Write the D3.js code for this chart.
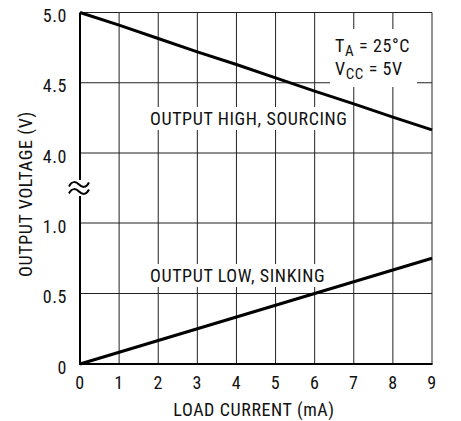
<!DOCTYPE html>
<html><head><meta charset="utf-8">
<script src="https://cdn.jsdelivr.net/npm/d3@7"></script>
<style>
body{margin:0;background:#fff;}
text{font-family:"Liberation Sans Narrow","Arial Narrow","Roboto Condensed",sans-serif;fill:#111;letter-spacing:0.6px;}
</style></head><body>
<svg id="c" width="461" height="421"></svg>
<script>
const current = [0,1,2,3,4,5,6,7,8,9];
const highOut = [5.00,4.91,4.815,4.72,4.63,4.535,4.44,4.35,4.255,4.165];
const lowOut  = [0.00,0.083,0.167,0.25,0.333,0.417,0.50,0.583,0.667,0.75];
const xTicks = [0,1,2,3,4,5,6,7,8,9];
const yTicks = [0,0.5,1.0,4.0,4.5,5.0];
const yTickLabels = ["0","0.5","1.0","4.0","4.5","5.0"];

const svg = d3.select("#c");
const fs = 18;
const x = d3.scaleLinear().domain([0,9]).range([80,432]);
const y = d3.scaleLinear().domain([0,1,4,5]).range([364,223,153,12.5]);

const g = svg.append("g");
g.selectAll(".vg").data(xTicks.slice(1)).join("line")
  .attr("x1",d=>x(d)).attr("x2",d=>x(d)).attr("y1",y(5)).attr("y2",y(0))
  .attr("stroke","#222").attr("stroke-width",1);
g.selectAll(".hg").data(yTicks.slice(1)).join("line")
  .attr("x1",x(0)).attr("x2",x(9)).attr("y1",d=>y(d)).attr("y2",d=>y(d))
  .attr("stroke","#222").attr("stroke-width",1);

const hi = g.append("text").attr("x",150).attr("y",125).attr("font-size",fs).text("OUTPUT HIGH, SOURCING");
const lo = g.append("text").attr("x",150).attr("y",282).attr("font-size",fs).text("OUTPUT LOW, SINKING");
[hi,lo].forEach(t=>{
  const b=t.node().getBBox();
  g.insert("rect","text").attr("x",b.x-4).attr("y",b.y-1).attr("width",b.width+8).attr("height",b.height+2).attr("fill","#fff");
});
g.append("rect").attr("x",330).attr("y",29).attr("width",87).attr("height",58).attr("fill","#fff");
const t1 = g.append("text").attr("x",335).attr("y",52).attr("font-size",fs);
t1.append("tspan").text("T");
t1.append("tspan").attr("font-size",15).attr("dy",4).text("A");
t1.append("tspan").attr("dy",-4).text(" = 25°C");
const t2 = g.append("text").attr("x",335).attr("y",75).attr("font-size",fs);
t2.append("tspan").text("V");
t2.append("tspan").attr("font-size",15).attr("dy",4).text("CC");
t2.append("tspan").attr("dy",-4).text(" = 5V");

g.append("line").attr("x1",x(0)).attr("x2",x(0)).attr("y1",y(5)).attr("y2",y(0)+1)
  .attr("stroke","#000").attr("stroke-width",2);
g.append("line").attr("x1",x(0)-1).attr("x2",x(9)+0.5).attr("y1",y(0)).attr("y2",y(0))
  .attr("stroke","#000").attr("stroke-width",2);

const line = d3.line().x((d,i)=>x(current[i])).y(d=>y(d));
g.append("path").attr("d",line(highOut)).attr("fill","none").attr("stroke","#000").attr("stroke-width",3);
g.append("path").attr("d",line(lowOut)).attr("fill","none").attr("stroke","#000").attr("stroke-width",3);

const bx = x(0)-1, by = (y(4)+y(1))/2;
g.append("rect").attr("x",bx-11).attr("y",by-8).attr("width",22).attr("height",16).attr("fill","#fff");
const wave = (cy)=>`M${bx-10},${cy+2} C${bx-7},${cy-4} ${bx-3},${cy-3} ${bx},${cy} S${bx+7},${cy+4} ${bx+10},${cy-2}`;
[by-3.5, by+3.5].forEach(cy=>{
  g.append("path").attr("d",wave(cy)).attr("fill","none").attr("stroke","#000").attr("stroke-width",2);
});

g.selectAll(".xt").data(xTicks).join("text")
  .attr("x",d=>x(d)).attr("y",389).attr("text-anchor","middle").attr("font-size",fs).text(d=>d);
g.selectAll(".yt").data(yTicks).join("text")
  .attr("x",67).attr("y",d=>y(d)+9.5).attr("text-anchor","end").attr("font-size",fs)
  .text((d,i)=>yTickLabels[i]);

svg.append("text").attr("x",254).attr("y",416).attr("text-anchor","middle").attr("font-size",fs)
  .text("LOAD CURRENT (mA)");
svg.append("text").attr("transform","translate(32,194) rotate(-90)").attr("text-anchor","middle")
  .attr("font-size",fs).text("OUTPUT VOLTAGE (V)");
</script></body></html>
